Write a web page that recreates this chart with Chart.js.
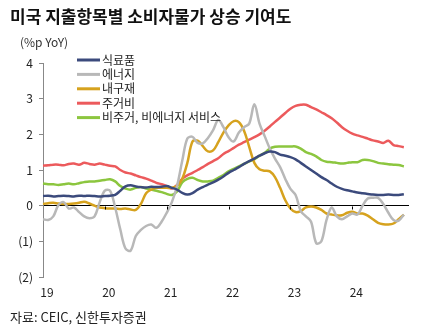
<!DOCTYPE html>
<html>
<head>
<meta charset="utf-8">
<script src="https://cdn.jsdelivr.net/npm/chart.js@4"></script>
<style>
  body { margin: 0; background: #fff; font-family: "Noto Sans CJK KR", "Noto Sans", sans-serif; }
  #wrap { position: relative; width: 422px; height: 333px; overflow: hidden; }
  #c { position: absolute; left: 0; top: 0; }
  .title { position: absolute; left: 10px; top: 6px; font-size: 17px; line-height: 20px; font-weight: bold; color: #111; white-space: nowrap; }
  .unit { position: absolute; left: 20px; top: 35px; font-size: 12px; line-height: 14px; color: #333; }
  .src { position: absolute; left: 10px; top: 309px; font-size: 13px; line-height: 16px; color: #222; }
</style>
</head>
<body>
<div id="wrap">
  <canvas id="c" width="422" height="333"></canvas>
  <div class="title">미국 지출항목별 소비자물가 상승 기여도</div>
  <div class="unit">(%p YoY)</div>
  <div class="src">자료: CEIC, 신한투자증권</div>
</div>
<script>
// monthly, Jan 2019 - Dec 2024 (last month has no data yet)
const years = ['2019', '2020', '2021', '2022', '2023', '2024'];
const months = [];
years.forEach(y => { for (let m = 1; m <= 12; m++) months.push(y + '-' + String(m).padStart(2, '0')); });

const seriesNames = ['식료품', '에너지', '내구재', '주거비', '비주거, 비에너지 서비스'];
const seriesColors = ['#3b4a7c', '#b8b8b8', '#d6a21e', '#ec5a5c', '#8cc63f'];

const food = [0.27, 0.28, 0.26, 0.27, 0.28, 0.27, 0.26, 0.28, 0.27, 0.28, 0.27, 0.26,
  0.27, 0.28, 0.30, 0.42, 0.54, 0.57, 0.54, 0.52, 0.51, 0.53, 0.52, 0.53,
  0.55, 0.50, 0.45, 0.36, 0.31, 0.35, 0.45, 0.52, 0.59, 0.65, 0.73, 0.82,
  0.92, 1.00, 1.08, 1.17, 1.25, 1.32, 1.40, 1.47, 1.52, 1.50, 1.43, 1.40,
  1.36, 1.30, 1.20, 1.10, 1.00, 0.90, 0.80, 0.72, 0.62, 0.53, 0.47, 0.43,
  0.40, 0.37, 0.35, 0.33, 0.31, 0.30, 0.30, 0.31, 0.30, 0.30, 0.32];

const energy = [-0.38, -0.40, -0.30, 0.02, 0.10, -0.08, -0.05, -0.18, -0.30, -0.35, -0.30, 0.10,
  0.42, 0.42, -0.05, -0.67, -1.20, -1.26, -0.85, -0.68, -0.57, -0.53, -0.62, -0.45,
  -0.20, 0.10, 0.55, 1.25, 1.88, 1.93, 1.76, 1.75, 1.90, 2.12, 2.40, 2.20,
  1.92, 1.80, 2.05, 2.20, 2.30, 2.84, 2.30, 1.95, 1.60, 1.32, 1.08, 0.75,
  0.47, 0.30, -0.15, -0.30, -0.45, -1.05, -1.00, -0.40, -0.05, -0.30, -0.38, -0.30,
  -0.22, -0.25, 0.00, 0.20, 0.22, 0.22, 0.05, -0.20, -0.40, -0.42, -0.25];

const durables = [0.05, 0.07, 0.08, 0.06, 0.05, 0.05, 0.06, 0.08, 0.11, 0.06, 0.00, -0.05,
  -0.07, -0.08, -0.08, -0.09, -0.08, -0.11, -0.12, 0.05, 0.35, 0.45, 0.50, 0.50,
  0.50, 0.50, 0.55, 0.75, 1.20, 1.80, 1.82, 1.67, 1.52, 1.55, 1.78, 2.05,
  2.25, 2.37, 2.34, 2.10, 1.65, 1.20, 1.02, 0.98, 0.96, 0.80, 0.50, 0.15,
  -0.08, -0.18, -0.15, -0.05, -0.02, -0.05, -0.12, -0.22, -0.25, -0.27, -0.27, -0.20,
  -0.17, -0.22, -0.22, -0.28, -0.38, -0.48, -0.52, -0.53, -0.50, -0.38, -0.25];

const housing = [1.12, 1.13, 1.15, 1.15, 1.13, 1.17, 1.18, 1.15, 1.20, 1.17, 1.15, 1.18,
  1.15, 1.12, 1.10, 1.00, 0.93, 0.90, 0.85, 0.80, 0.76, 0.70, 0.64, 0.60,
  0.55, 0.48, 0.58, 0.75, 0.85, 0.92, 1.00, 1.08, 1.17, 1.25, 1.33, 1.45,
  1.53, 1.62, 1.71, 1.78, 1.85, 1.92, 2.00, 2.10, 2.22, 2.35, 2.47, 2.60,
  2.72, 2.80, 2.83, 2.83, 2.76, 2.70, 2.62, 2.54, 2.45, 2.33, 2.20, 2.10,
  2.02, 1.97, 1.93, 1.88, 1.83, 1.80, 1.76, 1.82, 1.70, 1.67, 1.64];

const services = [0.62, 0.60, 0.60, 0.58, 0.60, 0.62, 0.60, 0.63, 0.66, 0.68, 0.68, 0.70,
  0.72, 0.74, 0.68, 0.55, 0.48, 0.45, 0.50, 0.52, 0.48, 0.45, 0.42, 0.38,
  0.33, 0.30, 0.40, 0.65, 0.75, 0.78, 0.72, 0.68, 0.68, 0.70, 0.78, 0.86,
  0.96, 1.03, 1.10, 1.17, 1.24, 1.30, 1.40, 1.48, 1.60, 1.65, 1.66, 1.66,
  1.66, 1.66, 1.60, 1.50, 1.45, 1.38, 1.28, 1.23, 1.22, 1.20, 1.18, 1.20,
  1.22, 1.22, 1.28, 1.28, 1.25, 1.20, 1.18, 1.16, 1.15, 1.14, 1.10];

const yTicks = [4, 3, 2, 1, 0, -1, -2];

const allSeries = [food, energy, durables, housing, services];
const fontFamily = '"Noto Sans CJK KR", "Noto Sans", sans-serif';

// legend inside the plot, upper left
const innerLegend = {
  id: 'innerLegend',
  afterDatasetsDraw(chart) {
    const ctx = chart.ctx;
    ctx.save();
    ctx.font = '12px ' + fontFamily;
    ctx.textBaseline = 'middle';
    chart.data.datasets.forEach((ds, i) => {
      const y = 60 + i * 14.4;
      ctx.strokeStyle = ds.borderColor;
      ctx.lineWidth = 3;
      ctx.beginPath();
      ctx.moveTo(77, y);
      ctx.lineTo(100, y);
      ctx.stroke();
      ctx.fillStyle = '#222';
      ctx.fillText(ds.label, 102, y);
    });
    ctx.restore();
  }
};

// small year tick marks hanging off the zero line
const zeroTicks = {
  id: 'zeroTicks',
  afterDatasetsDraw(chart) {
    const { ctx, scales: { x, y } } = chart;
    const y0 = Math.round(y.getPixelForValue(0)) + 0.5;
    ctx.save();
    ctx.strokeStyle = '#000';
    ctx.lineWidth = 1;
    months.forEach((m, i) => {
      if (i > 0 && i % 12 === 0) {
        const px = Math.round(x.getPixelForValue(i)) + 0.5;
        ctx.beginPath();
        ctx.moveTo(px, y0);
        ctx.lineTo(px, y0 + 3);
        ctx.stroke();
      }
    });
    ctx.restore();
  }
};

new Chart(document.getElementById('c'), {
  type: 'line',
  data: {
    labels: months,
    datasets: seriesNames.map((name, i) => ({
      label: name,
      data: allSeries[i],
      borderColor: seriesColors[i],
      backgroundColor: seriesColors[i],
      borderWidth: 2.5,
      pointRadius: 0,
      tension: 0.35
    }))
  },
  options: {
    responsive: false,
    animation: false,
    layout: { padding: { left: 0, top: 63, right: 13, bottom: 26 } },
    plugins: {
      legend: { display: false },
      tooltip: { enabled: false }
    },
    scales: {
      x: {
        type: 'category',
        offset: false,
        grid: { display: false, drawTicks: false },
        border: { display: false },
        ticks: {
          autoSkip: false,
          maxRotation: 0,
          padding: 8,
          labelOffset: 4,
          color: '#222',
          font: { family: fontFamily, size: 12 },
          callback: (v, i) => (i % 12 === 0 ? months[i].slice(2, 4) : '')
        },
        afterFit: s => { s.height = 30; }
      },
      y: {
        min: -2,
        max: 4,
        afterBuildTicks: s => { s.ticks = yTicks.map(v => ({ value: v })); },
        grid: {
          color: c => (c.tick && c.tick.value === 0 ? '#000' : 'rgba(0,0,0,0)'),
          tickColor: '#888',
          tickLength: 4,
          lineWidth: 1
        },
        border: { color: '#888', width: 1 },
        ticks: {
          padding: 6,
          color: '#222',
          font: { family: fontFamily, size: 12 },
          callback: v => (v < 0 ? '(' + Math.abs(v) + ')' : String(v))
        },
        afterFit: s => { s.width = 43; }
      }
    }
  },
  plugins: [innerLegend, zeroTicks]
});
</script>
</body>
</html>
